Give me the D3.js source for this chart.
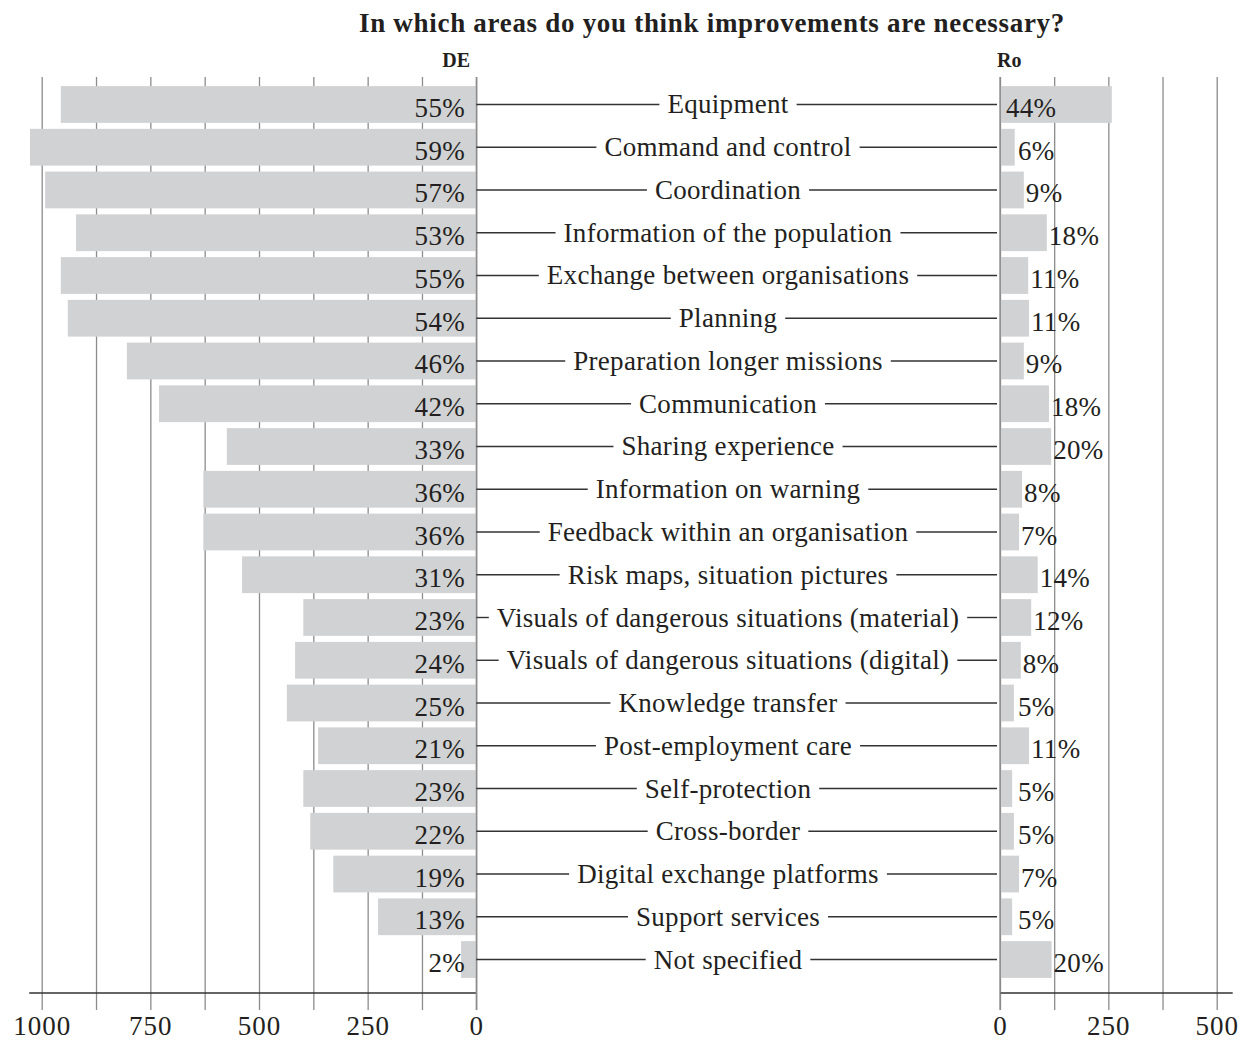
<!DOCTYPE html>
<html>
<head>
<meta charset="utf-8">
<script src="https://cdn.jsdelivr.net/npm/d3@7"></script>
<style>
  html, body { margin: 0; padding: 0; background: #fff; }
  svg text { font-family: "Liberation Serif", serif; fill: #231f20; }
</style>
</head>
<body>
<svg id="chart" width="1250" height="1041"></svg>
<script>
// ── data ──────────────────────────────────────────────────────────────────
const categories = [
  'Equipment', 'Command and control', 'Coordination', 'Information of the population',
  'Exchange between organisations', 'Planning', 'Preparation longer missions',
  'Communication', 'Sharing experience', 'Information on warning',
  'Feedback within an organisation', 'Risk maps, situation pictures',
  'Visuals of dangerous situations (material)', 'Visuals of dangerous situations (digital)',
  'Knowledge transfer', 'Post-employment care', 'Self-protection', 'Cross-border',
  'Digital exchange platforms', 'Support services', 'Not specified'
];
const deCounts = [956, 1027, 992, 921, 956, 940, 804, 730, 574, 628, 628, 539, 398, 417, 436, 364, 398, 382, 329, 226, 35];
const dePct    = [55, 59, 57, 53, 55, 54, 46, 42, 33, 36, 36, 31, 23, 24, 25, 21, 23, 22, 19, 13, 2];
const roCounts = [258, 34, 55, 108, 65, 67, 55, 113, 118, 51, 44, 87, 72, 48, 32, 67, 28, 32, 44, 28, 119];
const roPct    = [44, 6, 9, 18, 11, 11, 9, 18, 20, 8, 7, 14, 12, 8, 5, 11, 5, 5, 7, 5, 20];
const deTicks  = [0, 125, 250, 375, 500, 625, 750, 875, 1000];
const roTicks  = [0, 125, 250, 375, 500];
const labelTicks = [0, 250, 500, 750, 1000];

const title = 'In which areas do you think improvements are necessary?';

// ── layout ────────────────────────────────────────────────────────────────
const FS = 27;                 // body font size
const LS = '0.3px';            // a touch of tracking, the original face is wider
const GRID_TOP = 77, GRID_BOTTOM = 1010, AXIS_Y = 993;
const CENTER_X = 728;

const rows = categories.map((c, i) => ({
  cat: c, de: deCounts[i], dep: dePct[i], ro: roCounts[i], rop: roPct[i]
}));

const svg = d3.select('#chart');

const y = d3.scaleBand()
  .domain(categories)
  .range([83.1, 980.9])
  .paddingInner(0.14)
  .paddingOuter(0.07);

const xDE = d3.scaleLinear().domain([0, 1000]).range([476.3, 41.7]);
const xRO = d3.scaleLinear().domain([0, 500]).range([1000, 1216.7]);

// ── gridlines + tick labels ───────────────────────────────────────────────
function gridAxis(scale, ticks) {
  const g = svg.append('g')
    .attr('transform', `translate(0,${GRID_BOTTOM})`)
    .call(d3.axisBottom(scale)
      .tickValues(ticks)
      .tickSize(-(GRID_BOTTOM - GRID_TOP))
      .tickFormat(d => labelTicks.includes(d) ? d : ''));
  g.select('.domain').remove();
  g.selectAll('.tick line').attr('stroke', '#8c8c8c').attr('stroke-width', 1.3);
  g.selectAll('.tick text')
    .attr('y', 25).attr('dy', 0)
    .attr('font-size', FS)
    .attr('letter-spacing', '1px')
    .attr('font-family', '"Liberation Serif", serif')
    .attr('fill', '#231f20');
  return g;
}
gridAxis(xDE, deTicks);
gridAxis(xRO, roTicks);

// baseline axes
svg.append('line')
  .attr('x1', xDE(1000) - 12.5).attr('x2', xDE(0))
  .attr('y1', AXIS_Y).attr('y2', AXIS_Y)
  .attr('stroke', '#333').attr('stroke-width', 1.5);
svg.append('line')
  .attr('x1', xRO(0)).attr('x2', xRO(500) + 16)
  .attr('y1', AXIS_Y).attr('y2', AXIS_Y)
  .attr('stroke', '#333').attr('stroke-width', 1.5);

// ── bars ──────────────────────────────────────────────────────────────────
svg.append('g').selectAll('rect')
  .data(rows).join('rect')
  .attr('x', d => xDE(d.de))
  .attr('y', d => y(d.cat))
  .attr('width', d => xDE(0) - xDE(d.de) - 0.7)
  .attr('height', y.bandwidth())
  .attr('fill', '#d1d2d4');

svg.append('g').selectAll('rect')
  .data(rows).join('rect')
  .attr('x', xRO(0) + 0.7)
  .attr('y', d => y(d.cat))
  .attr('width', d => xRO(d.ro) - xRO(0) - 0.7)
  .attr('height', y.bandwidth())
  .attr('fill', '#d1d2d4');

// zero lines back on top of the bars
[xDE(0), xRO(0)].forEach(x0 => {
  svg.append('line')
    .attr('x1', x0).attr('x2', x0)
    .attr('y1', GRID_TOP).attr('y2', GRID_BOTTOM)
    .attr('stroke', '#8c8c8c').attr('stroke-width', 1.3);
});

// ── percentage labels ─────────────────────────────────────────────────────
svg.append('g').selectAll('text')
  .data(rows).join('text')
  .attr('x', 465)
  .attr('y', d => y(d.cat) + y.bandwidth() / 2 + 12.5)
  .attr('text-anchor', 'end')
  .attr('font-size', FS)
  .attr('letter-spacing', LS)
  .text(d => d.dep + '%');

svg.append('g').selectAll('text')
  .data(rows).join('text')
  .attr('x', d => d.ro > 150 ? xRO(0) + 6 : Math.max(xRO(d.ro) + 2, xRO(0) + 18))
  .attr('y', d => y(d.cat) + y.bandwidth() / 2 + 12.5)
  .attr('font-size', FS)
  .attr('letter-spacing', LS)
  .text(d => d.rop + '%');

// ── centre category labels with connector lines ───────────────────────────
const cg = svg.append('g');
rows.forEach(d => {
  const cy = y(d.cat) + y.bandwidth() / 2;
  const t = cg.append('text')
    .attr('x', CENTER_X)
    .attr('y', cy + 9)
    .attr('text-anchor', 'middle')
    .attr('font-size', FS)
    .attr('letter-spacing', LS)
    .text(d.cat);
  const w = t.node().getComputedTextLength();
  const room = (xRO(0) - xDE(0) - w) / 2;
  const gap = Math.max(1, Math.min(8, room - 4));
  cg.append('line')
    .attr('x1', xDE(0)).attr('x2', CENTER_X - w / 2 - gap)
    .attr('y1', cy).attr('y2', cy)
    .attr('stroke', '#333').attr('stroke-width', 1.4);
  cg.append('line')
    .attr('x1', CENTER_X + w / 2 + gap).attr('x2', xRO(0) - 3)
    .attr('y1', cy).attr('y2', cy)
    .attr('stroke', '#333').attr('stroke-width', 1.4);
});

// ── titles ────────────────────────────────────────────────────────────────
svg.append('text')
  .attr('x', 712).attr('y', 32)
  .attr('text-anchor', 'middle')
  .attr('font-size', FS).attr('font-weight', 'bold')
  .attr('letter-spacing', '0.7px')
  .text(title);

svg.append('text')
  .attr('x', 470).attr('y', 66.5)
  .attr('text-anchor', 'end')
  .attr('font-size', 20).attr('font-weight', 'bold')
  .text('DE');

svg.append('text')
  .attr('x', 997).attr('y', 66.5)
  .attr('font-size', 20).attr('font-weight', 'bold')
  .text('Ro');
</script>
</body>
</html>
